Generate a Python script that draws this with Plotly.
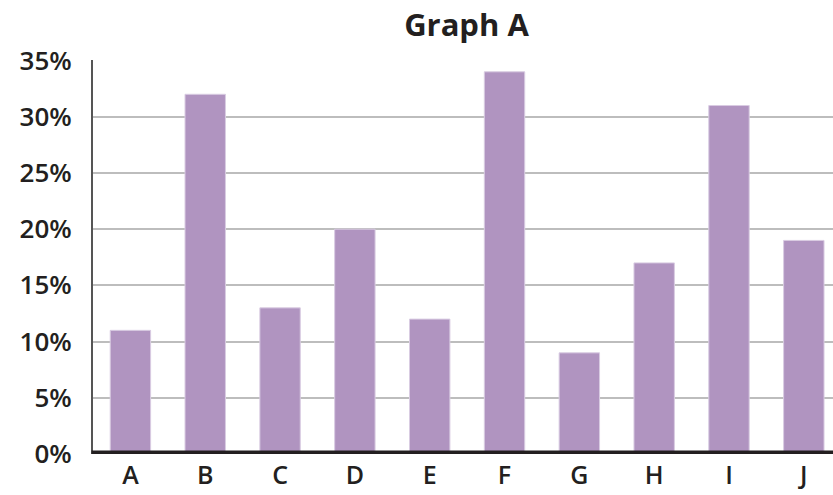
import plotly.graph_objects as go

categories = ["A", "B", "C", "D", "E", "F", "G", "H", "I", "J"]
values = [11, 32, 13, 20, 12, 34, 9, 17, 31, 19]
y_ticks = [0, 5, 10, 15, 20, 25, 30, 35]
y_tick_labels = [f"{v}%" for v in y_ticks]

text_color = "#231f20"

fig = go.Figure(
    go.Bar(
        x=categories,
        y=values,
        marker=dict(color="#b094c0", line=dict(color="#d9cce2", width=1)),
        hoverinfo="skip",
    )
)

fig.update_layout(
    width=833,
    height=495,
    margin=dict(l=93, r=0, t=60, b=41),
    plot_bgcolor="white",
    paper_bgcolor="white",
    bargap=0.46,
    showlegend=False,
    title=dict(
        text="Graph A",
        x=0.56,
        xanchor="center",
        y=0.95,
        yanchor="middle",
        font=dict(family="Open Sans", size=31, weight=700, color=text_color),
    ),
)

fig.update_xaxes(
    type="category",
    range=[-0.5, 9.39],
    automargin=False,
    showgrid=False,
    showline=False,
    zeroline=False,
    ticks="",
    ticklabelstandoff=4,
    tickfont=dict(family="Open Sans", size=25, weight=600, color=text_color),
)

fig.update_yaxes(
    range=[0, 35.05],
    automargin=False,
    tickvals=y_ticks,
    ticktext=y_tick_labels,
    showgrid=True,
    gridcolor="#bdbdbd",
    gridwidth=2,
    showline=True,
    linecolor="#555555",
    linewidth=2,
    zeroline=False,
    ticks="",
    ticklabelstandoff=14,
    tickfont=dict(family="Open Sans", size=26, weight=600, color=text_color),
)

# heavy baseline along 0%
fig.add_shape(
    type="line",
    xref="paper",
    yref="y",
    x0=-0.002,
    x1=1,
    y0=0,
    y1=0,
    line=dict(color=text_color, width=7),
)

fig.write_html("out.html")
